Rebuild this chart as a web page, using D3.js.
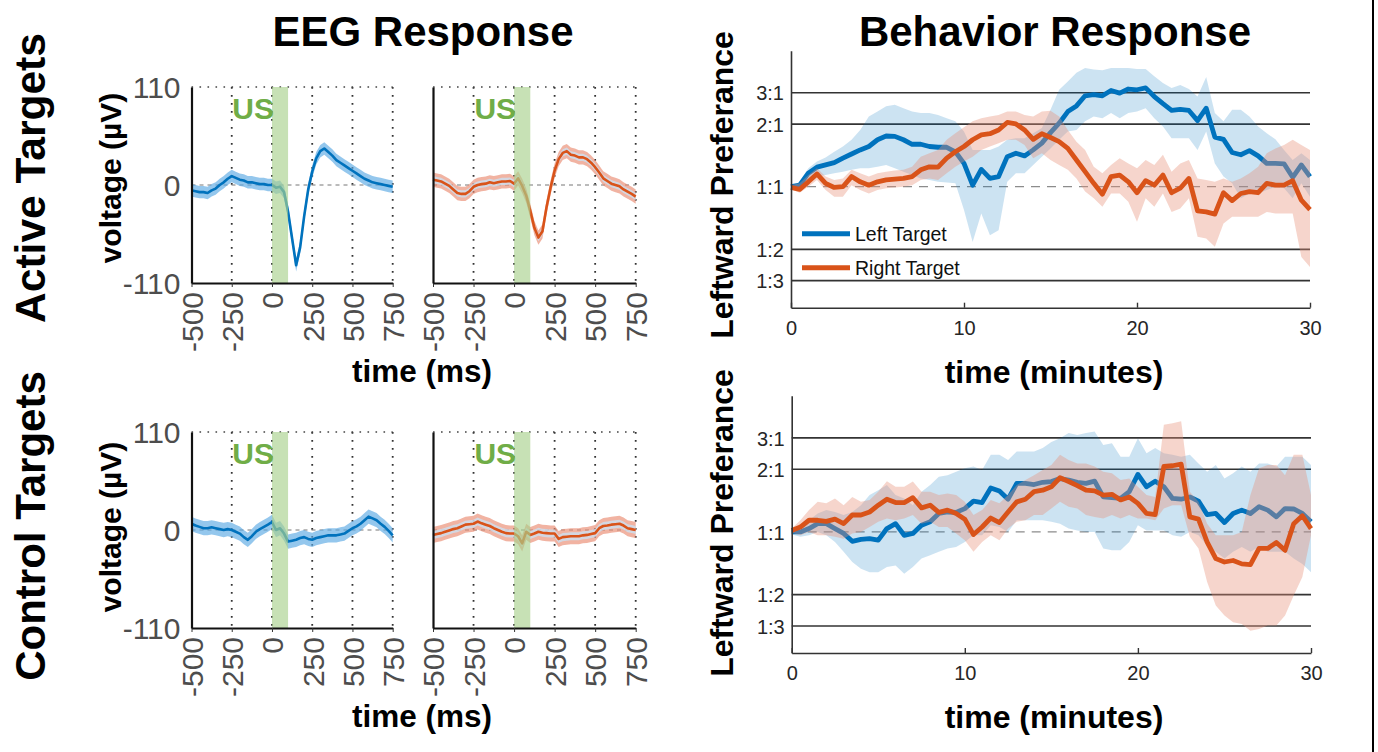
<!DOCTYPE html>
<html>
<head>
<meta charset="utf-8">
<script src="https://cdn.jsdelivr.net/npm/d3@7"></script>
<style>
  body { margin: 0; background: #fff; }
  text { font-family: "Liberation Sans", Arial, sans-serif; }
</style>
</head>
<body>
<svg id="fig" width="1378" height="752"></svg>
<script>
// ---- EEG data: mean voltage (uV), sampled every 25 ms from -500 to 750 ms
var eegTime = d3.range(-500, 751, 25)
var eegTicks = [-500, -250, 0, 250, 500, 750]
var activeLeftEEG = [-6,-7,-8,-8,-9,-6,-4,0,3,7, 10,8,6,5,3,3,2,1,1,0,
  0,-3,-2,-8,-30,-60,-90,-70,-35,-5, 15,30,38,41,37,33,28,25,22,19,
  16,13,10,7,5,3,2,1,0,-1, -2]
var activeRightEEG = [6,5,4,1.5,-1,-5,-9,-10,-10,-7, -2,0,1,1.5,3,2,3,4,4,4.5,
  1.5,7.5,-1,-12,-29,-48,-59,-52,-25,-3, 16,29,36,38,34,33,31,31,29,25,
  20,14,7.5,4.5,1.5,0,-1.5,-5,-7.5,-10, -13]
var controlLeftEEG = [7,5,3.5,2,2,3,2,1,0,1, 0,-2,-4,-8,-11,-7,-2,1,3.5,6,
  9,0,2,-4,-13,-12,-11,-9,-8,-10, -11,-9,-8,-7,-6,-6,-6,-5,-4,-1,
  2,4,7,11,15,13,11,7,3.5,-1, -6]
var controlRightEEG = [-5.5,-4.5,-3.5,-2,-0.5,1,2,4,6,6.5, 7,9.5,7.5,6,4.5,2,0,-2,-3.5,-4,
  -4,-7,-15,-2,-5.5,-4,-2,-3,-3.5,-4, -4,-10,-8,-7.5,-7,-7,-7,-6,-5.5,-4.5,
  -3.5,2,4.5,5,6,6.5,7,5,2,1, 0]
var eegSem = [7, 8, 8, 9]          // half width of shaded band, per panel
var usWindow = [0, 100]            // ultrasound on (ms)

// ---- Behavior data: leftward preference (% left), every 0.5 min
var behTime = d3.range(0, 30.01, 0.5)
var ratioTicks = [25, 100/3, 50, 200/3, 75]
var ratioLabels = ["1:3", "1:2", "1:1", "2:1", "3:1"]

var activeLeftMean = [50.0,50.4,53.6,55.2,55.8,56.4,57.6,58.7,59.8,60.7,
  62.5,63.5,63.4,62.5,61.3,61.3,60.7,60.5,60.5,59.3, 56.2,50.4,54.6,52.2,52.7,58.0,58.9,58.2,59.8,61.6,
  64.4,66.9,70.0,71.5,74.2,74.5,74.2,75.6,74.9,76.0, 75.8,76.3,74.0,72.1,70.3,70.6,70.3,67.6,70.9,63.2,
  62.6,59.1,58.5,59.6,58.2,56.2,56.2,56.1,52.5,55.8, 52.7]
var activeLeftHi = [50.0,51.3,54.9,56.7,57.8,59.3,60.7,62.5,65.1,68.7,
  70.0,71.4,71.8,70.9,70.0,69.6,69.6,69.1,68.2,67.4, 64.7,59.8,59.8,59.8,60.7,62.5,62.9,62.9,64.2,65.6,
  70.5,75.8,78.0,80.3,81.6,81.2,81.0,81.6,81.6,81.6, 81.3,81.3,79.4,77.6,76.3,77.1,76.0,74.0,79.2,69.6,
  67.4,70.5,70.5,68.7,66.0,64.2,62.6,59.8,57.1,58.9, 57.1]
var activeLeftLo = [49.8,49.6,51.3,52.7,53.1,53.6,54.0,54.5,54.9,54.9,
  55.3,55.8,54.9,54.0,53.1,52.2,51.8,51.3,51.1,50.9, 43.8,35.3,42.9,37.1,38.4,51.3,53.6,53.6,55.8,58.0,
  60.2,62.5,64.7,65.1,67.4,68.7,68.2,69.6,68.2,69.6, 70.0,70.9,68.2,66.0,62.9,62.9,62.9,59.8,64.7,56.2,
  52.7,50.9,46.9,48.2,48.2,49.1,50.0,49.6,46.9,50.9, 47.3]

var activeRightMean = [49.8,49.3,51.3,53.4,50.9,49.8,50.0,52.7,51.3,50.4,
  51.3,51.8,52.0,52.2,52.7,54.5,55.3,55.2,57.6,59.3, 60.7,62.5,63.8,64.1,65.1,67.1,66.7,65.1,62.6,64.1,
  63.1,62.0,60.2,57.1,54.0,50.9,48.0,52.7,53.1,51.3, 48.4,51.6,50.4,53.1,48.4,49.6,52.2,43.6,43.3,42.7,
  48.4,46.3,48.2,48.7,48.4,50.9,50.4,50.4,51.6,46.4, 43.9]
var activeRightHi = [50.4,50.9,53.1,54.9,52.7,51.8,52.2,54.5,53.6,52.7,
  53.6,54.0,54.3,54.5,55.3,58.0,58.9,59.8,62.5,64.2, 65.8,67.4,68.2,68.7,69.1,70.0,70.0,69.1,68.7,70.0,
  70.2,68.7,65.1,62.0,59.8,55.3,53.6,55.8,57.6,56.2, 54.9,57.1,55.8,58.5,54.0,56.2,57.1,52.2,51.8,51.3,
  52.2,51.3,52.2,53.6,55.3,58.9,60.2,61.1,62.5,61.1, 59.8]
var activeRightLo = [49.3,48.4,50.0,51.8,49.1,47.3,47.3,50.4,49.1,48.2,
  49.1,49.6,49.8,50.0,50.4,51.8,52.2,51.8,53.6,55.3, 56.7,58.0,59.8,60.7,61.6,62.5,62.5,61.1,57.6,58.9,
  57.1,55.8,54.5,52.2,48.7,46.9,44.7,48.2,48.2,46.0, 40.7,46.9,44.7,48.2,43.3,44.2,46.9,36.7,36.2,34.0,
  40.2,42.0,42.0,42.0,42.0,43.3,42.9,42.9,42.9,31.3, 28.6]

var controlLeftMean = [50.0,50.0,50.9,52.2,52.2,50.9,49.6,47.5,48.0,48.2,
  47.8,50.9,52.2,49.1,49.6,51.8,52.7,54.9,55.3,55.2, 56.2,58.2,57.8,61.7,60.9,58.7,62.9,62.9,62.6,63.2,
  63.4,64.2,63.8,63.2,62.9,63.5,59.3,59.1,58.9,60.7, 65.3,62.0,63.5,62.0,58.9,58.7,59.3,58.2,54.6,54.9,
  52.5,54.9,55.8,54.9,56.7,55.8,54.0,56.2,56.1,54.9, 52.7]
var controlLeftHi = [50.4,50.9,53.1,54.9,55.8,55.3,54.5,55.3,57.1,59.8,
  61.1,62.5,59.8,58.9,57.1,60.7,62.5,64.7,65.1,66.0, 66.9,67.4,66.5,70.5,70.5,69.1,71.4,71.4,71.4,72.3,
  73.9,74.9,76.3,75.8,76.3,76.7,73.1,73.6,70.0,70.0, 74.9,70.9,72.3,70.9,70.5,70.0,70.5,68.2,66.0,67.8,
  64.2,65.6,67.4,66.0,68.2,68.2,67.4,70.0,70.0,70.0, 67.8]
var controlLeftLo = [49.3,48.7,49.1,50.0,49.1,47.3,44.7,42.0,40.2,39.3,
  39.3,40.7,41.1,38.9,40.7,42.9,43.8,44.7,45.6,46.0, 47.3,49.1,49.1,51.8,51.3,50.0,53.1,53.1,53.1,53.1,
  52.7,52.2,50.9,50.4,50.0,50.0,45.6,45.1,45.1,47.3, 51.8,50.4,50.4,50.4,49.1,48.7,50.0,49.1,46.4,44.7,
  42.9,44.7,46.0,44.7,46.0,44.7,44.7,44.7,42.9,41.5, 39.3]

var controlRightMean = [50.4,51.3,53.1,53.1,52.8,53.4,52.2,54.5,54.5,55.3,
  57.1,58.7,57.8,57.8,59.1,56.4,57.1,55.2,55.8,54.9, 53.4,49.3,51.3,53.7,52.5,55.3,58.0,58.7,60.7,61.1,
  62.0,64.4,63.4,62.3,61.1,60.9,59.8,60.0,58.5,59.3, 57.6,54.9,54.6,67.4,67.6,68.0,54.0,53.4,47.3,42.9,
  42.0,42.4,41.5,41.3,45.6,45.6,47.2,45.1,52.2,54.3, 50.9]
var controlRightHi = [50.9,53.1,55.8,58.0,57.6,58.9,57.1,59.3,58.0,58.5,
  60.7,63.5,62.0,62.0,63.4,60.7,60.7,59.8,60.2,59.8, 58.0,54.5,55.8,58.5,57.6,59.8,62.5,63.8,65.1,66.5,
  67.8,70.5,69.1,68.2,68.2,67.4,66.0,65.6,63.8,64.2, 62.0,59.8,59.3,78.5,78.9,79.4,60.7,58.0,52.2,49.1,
  49.1,49.1,50.0,59.8,66.9,67.8,67.8,65.1,70.5,70.5, 59.8]
var controlRightLo = [49.8,49.1,50.0,49.1,49.1,48.7,48.2,49.6,50.0,51.3,
  52.7,53.6,53.1,53.6,54.5,52.2,52.7,51.3,51.3,49.6, 47.8,44.7,47.3,49.1,47.8,50.9,52.7,53.1,54.5,54.5,
  56.2,58.0,56.7,56.2,54.5,54.0,53.6,54.5,53.6,54.5, 53.6,53.6,53.1,56.2,57.1,57.1,48.7,45.6,36.7,30.4,
  27.8,26.0,25.5,23.7,24.2,25.1,25.1,27.8,33.1,38.0, 49.1]

var blue = "#0072BD", red = "#D95319"

var svg = d3.select("#fig")
svg.append("rect").attr("width", 1378).attr("height", 752).attr("fill", "#fff")

function drawEEG(box, vals, sem, lineCol, bandCol, inner){
  var g = svg.append("g")
  var x = d3.scaleLinear().domain([-500, 750]).range([box.x0, box.x1])
  var y = d3.scaleLinear().domain([-110, 110]).range([box.y1, box.y0])

  // dotted grid
  eegTicks.slice(1).forEach(function(t){
    g.append("line").attr("x1", x(t)).attr("x2", x(t)).attr("y1", box.y0).attr("y2", box.y1)
      .attr("stroke", "#333").attr("stroke-width", 1.8).attr("stroke-dasharray", "1.8,6.2")
  })
  g.append("line").attr("x1", box.x0).attr("x2", box.x1).attr("y1", y(110)).attr("y2", y(110))
    .attr("stroke", "#444").attr("stroke-width", 1.3).attr("stroke-dasharray", "1.6,6.4")
  g.append("line").attr("x1", box.x0).attr("x2", box.x1).attr("y1", y(0)).attr("y2", y(0))
    .attr("stroke", "#777").attr("stroke-width", 1).attr("stroke-dasharray", "4,4")

  var band = d3.area()
    .x(function(d, i){ return x(eegTime[i]) })
    .y0(function(d){ return y(d - sem) })
    .y1(function(d){ return y(d + sem) })
  g.append("path").datum(vals).attr("d", band).attr("fill", bandCol).attr("opacity", 0.65)
  if (inner){
    var band2 = d3.area()
      .x(function(d, i){ return x(eegTime[i]) })
      .y0(function(d){ return y(d - sem * 0.5) })
      .y1(function(d){ return y(d + sem * 0.5) })
    g.append("path").datum(vals).attr("d", band2).attr("fill", inner).attr("opacity", 0.75)
  }
  var line = d3.line().x(function(d, i){ return x(eegTime[i]) }).y(function(d){ return y(d) })
  g.append("path").datum(vals).attr("d", line).attr("fill", "none")
    .attr("stroke", lineCol).attr("stroke-width", 2.6).attr("stroke-linejoin", "round")

  // ultrasound window
  g.append("rect").attr("x", x(usWindow[0])).attr("width", x(usWindow[1]) - x(usWindow[0]))
    .attr("y", box.y0).attr("height", box.y1 - box.y0).attr("fill", "#a9d18e").attr("opacity", 0.65)
  g.append("text").attr("x", x(usWindow[0]) + 2).attr("y", box.y0 + 32).attr("text-anchor", "end")
    .attr("font-size", 30).attr("font-weight", "bold").attr("fill", "#70ad47").text("US")

  var ax = g.append("g").attr("transform", "translate(0," + box.y1 + ")")
    .call(d3.axisBottom(x).tickValues(eegTicks).tickSize(4).tickSizeOuter(0)
      .tickFormat(function(d){ return String(d) }))
  ax.selectAll("text").attr("transform", "rotate(-90)").attr("x", -9).attr("y", 0)
    .attr("dy", "0.36em").style("text-anchor", "end")
  var ay = g.append("g").attr("transform", "translate(" + box.x0 + ",0)")
    .call(d3.axisLeft(y).tickValues([-110, 0, 110]).tickSize(0).tickPadding(11)
      .tickFormat(function(d){ return String(d) }))
  ay.selectAll("text").attr("dy", "0.36em")
  if (!box.showY) ay.selectAll("text").remove()
  g.selectAll(".domain").attr("stroke", "#111").attr("stroke-width", 2.2)
  g.selectAll(".tick line").attr("stroke", "#333")
  g.selectAll(".tick text").attr("font-size", 30).attr("fill", "#4d4d4d")
    .attr("font-family", "Liberation Sans, Arial, sans-serif")
}

drawEEG({x0: 191.5, x1: 392.7, y0: 87, y1: 283, showY: true}, activeLeftEEG, eegSem[0], blue, "#5aa9e3", null)
drawEEG({x0: 433, x1: 635.7, y0: 87, y1: 283, showY: false}, activeRightEEG, eegSem[1], red, "#ea8a70", "#c9e3f5")
drawEEG({x0: 191.5, x1: 392.7, y0: 432, y1: 628, showY: true}, controlLeftEEG, eegSem[2], blue, "#5aa9e3", null)
drawEEG({x0: 433, x1: 635.7, y0: 432, y1: 628, showY: false}, controlRightEEG, eegSem[3], red, "#ea8a70", "#c9e3f5")

function drawBehavior(box, series, legend){
  var g = svg.append("g")
  var x = d3.scaleLinear().domain([0, 30]).range([box.x0, box.x1])
  var y = d3.scaleLinear().domain([17.8, 86.2]).range([box.y1, box.y0])

  ratioTicks.forEach(function(v){
    var l = g.append("line").attr("x1", box.x0).attr("x2", box.x1).attr("y1", y(v)).attr("y2", y(v))
    if (v == 50) l.attr("stroke", "#8c8c8c").attr("stroke-width", 1.3).attr("stroke-dasharray", "9,7")
    else l.attr("stroke", "#333").attr("stroke-width", 1.6)
  })

  series.forEach(function(s){
    var band = d3.area()
      .x(function(d, i){ return x(behTime[i]) })
      .y0(function(d, i){ return y(s.lo[i]) })
      .y1(function(d, i){ return y(s.hi[i]) })
    g.append("path").datum(s.mean).attr("d", band).attr("fill", s.band).attr("opacity", s.alpha)
    var line = d3.line().x(function(d, i){ return x(behTime[i]) }).y(function(d){ return y(d) })
    g.append("path").datum(s.mean).attr("d", line).attr("fill", "none")
      .attr("stroke", s.col).attr("stroke-width", 4.8).attr("stroke-linejoin", "round")
  })

  var ax = g.append("g").attr("transform", "translate(0," + box.y1 + ")")
    .call(d3.axisBottom(x).tickValues([0, 10, 20, 30]).tickSize(-5).tickSizeOuter(0).tickPadding(13))
  var ay = g.append("g").attr("transform", "translate(" + box.x0 + ",0)")
    .call(d3.axisLeft(y).tickValues(ratioTicks).tickSize(0).tickPadding(7)
      .tickFormat(function(d, i){ return ratioLabels[i] }))
  ay.selectAll("text").attr("dy", "0.36em")
  g.selectAll(".domain").attr("stroke", "#333").attr("stroke-width", 1.6)
  g.selectAll(".tick line").attr("stroke", "#333").attr("stroke-width", 1.4)
  g.selectAll(".tick text").attr("font-size", 20).attr("fill", "#262626")
    .attr("font-family", "Liberation Sans, Arial, sans-serif")

  if (legend){
    series.forEach(function(s, i){
      var ly = box.y0 + 183 + i * 34
      g.append("line").attr("x1", box.x0 + 11).attr("x2", box.x0 + 59).attr("y1", ly).attr("y2", ly)
        .attr("stroke", s.col).attr("stroke-width", 5)
      g.append("text").attr("x", box.x0 + 64).attr("y", ly + 7).attr("font-size", 19.5)
        .attr("fill", "#111").text(s.name)
    })
  }
}

drawBehavior({x0: 791, x1: 1310, y0: 50.7, y1: 307.7}, [
  {name: "Left Target", mean: activeLeftMean, hi: activeLeftHi, lo: activeLeftLo, col: blue, band: blue, alpha: 0.2},
  {name: "Right Target", mean: activeRightMean, hi: activeRightHi, lo: activeRightLo, col: red, band: "#e8907a", alpha: 0.38}
], true)
drawBehavior({x0: 791.7, x1: 1311, y0: 395.8, y1: 653}, [
  {name: "Left Target", mean: controlLeftMean, hi: controlLeftHi, lo: controlLeftLo, col: blue, band: blue, alpha: 0.2},
  {name: "Right Target", mean: controlRightMean, hi: controlRightHi, lo: controlRightLo, col: red, band: "#e8907a", alpha: 0.38}
], false)

// ---- titles and labels
function label(txt, x, y, size, rot){
  var t = svg.append("text").attr("font-size", size).attr("font-weight", "bold")
    .attr("fill", "#000").attr("text-anchor", "middle").text(txt)
  if (rot) t.attr("transform", "translate(" + x + "," + y + ") rotate(-90)")
  else t.attr("x", x).attr("y", y)
}
label("EEG Response", 423, 46, 42)
label("Behavior Response", 1055, 46, 42)
label("Active Targets", 45, 178, 42.5, true)
label("Control Targets", 45, 526, 42, true)
label("voltage (\u00b5V)", 121, 178, 30, true)
label("voltage (\u00b5V)", 121, 527, 30, true)
label("time (ms)", 422, 382, 31.5)
label("time (ms)", 422, 727, 31.5)
label("Leftward Preferance", 733, 185, 32, true)
label("Leftward Preferance", 733, 523, 32, true)
label("time (minutes)", 1054, 383, 32)
label("time (minutes)", 1054, 728, 32)

svg.append("line").attr("x1", 1373).attr("x2", 1373).attr("y1", 0).attr("y2", 752)
  .attr("stroke", "#000").attr("stroke-width", 2)
</script>
</body>
</html>
